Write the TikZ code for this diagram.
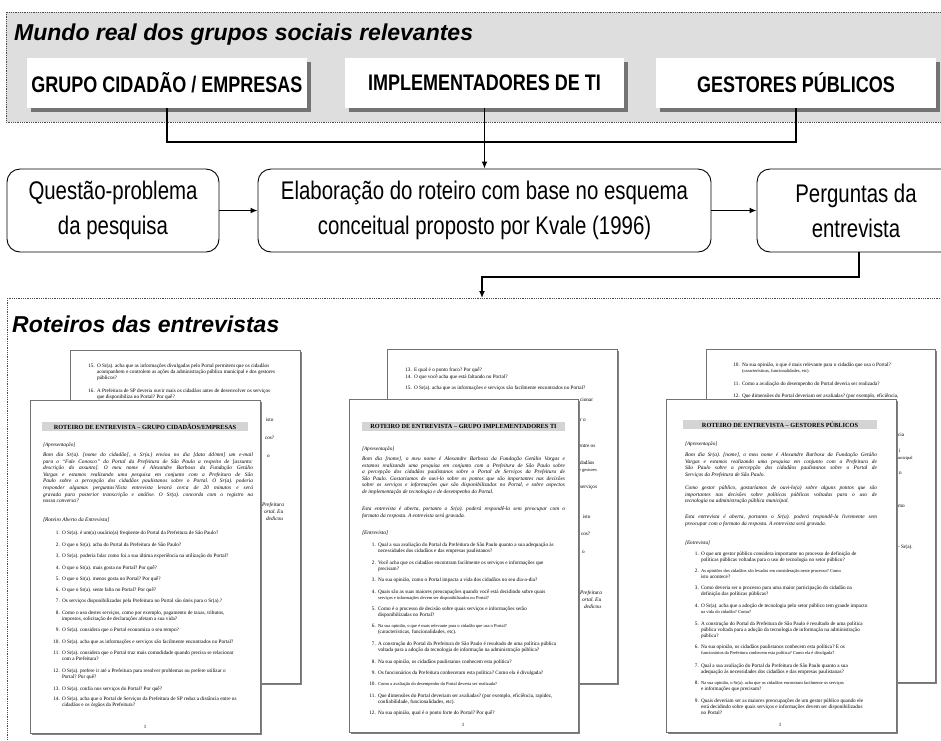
\documentclass[tikz,border=0pt]{standalone}
\usepackage{fontspec}
\setmainfont{Liberation Sans}
\newfontfamily\narrowsf{Liberation Sans}[FakeStretch=0.8]
\newfontfamily\docrm{Liberation Serif}
\usetikzlibrary{arrows.meta}

% fonts used inside the page thumbnails
\newcommand\fpar{\docrm\itshape\fontsize{5.4}{6.6}\selectfont\frenchspacing\tolerance=9999\emergencystretch=20pt }
\newcommand\fhead{\docrm\itshape\fontsize{5.2}{6.2}\selectfont}
\newcommand\fitem{\docrm\fontsize{5.2}{6.2}\selectfont\frenchspacing\raggedright}
\newcommand\fsmall{\docrm\fontsize{4.5}{6}\selectfont}

% text block: name, x, baseline y, width, content
\newcommand\pbody[5]{\node[txt] (#1) at (#2,#3) {\parbox[t]{#4pt}{#5}};}
% numbered question: name, x of text, baseline y, width, number, text
\newcommand\qitem[6]{%
  \node[txt, anchor=base east] (#1n) at (#2-2.2,#3) {\fitem #5};
  \node[txt] (#1) at (#2,#3) {\parbox[t]{#4pt}{\fitem #6}};}
% words of a covered page that show beside the page in front: name, x, baseline y, text
\newcommand\frag[4]{\node[txt] (#1) at (#2,#3) {#4};}

\begin{document}
\begin{tikzpicture}[x=1pt,y=-1pt,
  conn/.style={line width=1.8pt, draw=black},
  tip/.style={-{Latex[length=7pt,width=6pt]}},
  frame/.style={densely dotted, line width=0.8pt, draw=black!70},
  grp/.style={fill=white, inner sep=0pt, minimum height=50pt,
    font=\narrowsf\bfseries\fontsize{22.5}{26}\selectfont,
    preaction={fill=black!55, transform canvas={xshift=4pt,yshift=-4pt}}},
  stepbox/.style={draw=black, line width=0.9pt, rounded corners=13pt, fill=white,
    minimum height=83pt, align=center, inner sep=0pt,
    font=\narrowsf\fontsize{25.5}{35}\selectfont},
  ftitle/.style={anchor=base west, inner sep=0pt, font=\bfseries\itshape\fontsize{23}{27}\selectfont},
  docpage/.style={draw=black!55, line width=0.6pt, fill=white, inner sep=0pt,
    preaction={fill=black!50, transform canvas={xshift=1.8pt,yshift=-1.8pt}}},
  band/.style={fill=black!17, inner sep=0pt, minimum height=9pt,
    font=\docrm\bfseries\fontsize{6.3}{7}\selectfont},
  txt/.style={anchor=base west, inner sep=0pt, outer sep=0pt},
  pnum/.style={anchor=base, inner sep=0pt, font=\docrm\fontsize{5}{6}\selectfont}
]
\useasboundingbox (0,0) rectangle (941,740);
\clip (0,0) rectangle (941,740);

% ---------- real world of the social groups ----------
\draw[frame, fill=black!13] (6,12) rectangle (960,122);
\node[ftitle] (worldtitle) at (14,40) {Mundo real dos grupos sociais relevantes};
\node[grp, minimum width=280pt] (g1) at (167,83) {GRUPO CIDADÃO / EMPRESAS};
\node[grp, minimum width=279pt] (g2) at (484.5,83) {IMPLEMENTADORES DE TI};
\node[grp, minimum width=280pt] (g3) at (796,83) {GESTORES PÚBLICOS};

% ---------- process row ----------
\node[stepbox, minimum width=212pt] (qp) at (113,210.5) {Questão-problema\\da pesquisa};
\node[stepbox, minimum width=453pt] (elab) at (484.5,210.5) {Elaboração do roteiro com base no esquema\\conceitual proposto por Kvale (1996)};
\node[stepbox, minimum width=198pt] (perg) at (856,210.5) {Perguntas da\\entrevista};

\coordinate (join) at (484.5,142);
\draw[conn] (g1.south) |- (join) -| (g3.south);
\draw[conn, tip] (g2.south) -- (elab.north);
\draw[conn, tip] (qp.east) -- (elab.west);
\draw[conn, tip] (elab.east) -- (perg.west);

\coordinate (turn) at (859,277);
\coordinate (lowtop) at (482,298);
\draw[conn, tip] (perg.south -| turn) -- (turn) -- (turn -| lowtop) -- (lowtop);

% ---------- interview scripts ----------
\draw[frame] (7,298) rectangle (960,770);
\node[ftitle] (scripttitle) at (12,332) {Roteiros das entrevistas};

% ===== script 1: citizens / companies =====
\node[docpage, minimum width=230pt, minimum height=333pt] (p1back) at (185,516.5) {};
\qitem{p1b15}{97}{367.5}{186}{15.}{O Sr(a). acha que as informações divulgadas pelo Portal permitem que os cidadãos\\acompanhem e controlem as ações da administração pública municipal e dos gestores\\públicos?}
\qitem{p1b16}{97}{392.5}{186}{16.}{A Prefeitura de SP deveria ouvir mais os cidadãos antes de desenvolver os serviços\\que disponibiliza no Portal? Por quê?}
\frag{p1f1}{266}{421.5}{\fitem isto}
\frag{p1f2}{265}{439.5}{\fitem cos?}
\frag{p1f3}{267}{457.5}{\fitem o}
\frag{p1f4}{262}{506.5}{\fpar Prefeitura}
\frag{p1f5}{264}{513.5}{\fpar ortal. Eu}
\frag{p1f6}{266}{520.5}{\fpar dedicou}

\node[docpage, minimum width=230pt, minimum height=333pt] (p1front) at (145,566.5) {};
\node[band, minimum width=206pt] (p1band) at (145,426.5) {ROTEIRO DE ENTREVISTA – GRUPO CIDADÃOS/EMPRESAS};
\pbody{p1apr}{43}{446.5}{100}{\fhead [Apresentação]}
\pbody{p1par}{43}{456.5}{210}{\fpar Bom dia Sr(a). [nome do cidadão], o Sr(a.) enviou no dia [data dd/mm] um e-mail\linebreak
para o “Fale Conosco” do Portal da Prefeitura de São Paulo a respeito de [assunto:\linebreak
descrição do assunto]. O meu nome é Alexandre Barbosa da Fundação Getúlio\linebreak
Vargas e estamos realizando uma pesquisa em conjunto com a Prefeitura de São\linebreak
Paulo sobre a percepção dos cidadãos paulistanos sobre o Portal. O Sr(a). poderia\linebreak
responder algumas perguntas?Esta entrevista levará cerca de 20 minutos e será\linebreak
gravada para posterior transcrição e análise. O Sr(a). concorda com o registro na\linebreak
nossa conversa?}
\pbody{p1rot}{43}{521.5}{150}{\fpar [Roteiro Aberto da Entrevista]}
\qitem{p1q1}{62}{534}{195}{1.}{O Sr(a). é um(a) usuário(a) freqüente do Portal da Prefeitura de São Paulo?}
\qitem{p1q2}{62}{546.5}{195}{2.}{O que o Sr(a). acha do Portal da Prefeitura de São Paulo?}
\qitem{p1q3}{62}{557.5}{195}{3.}{O Sr(a). poderia falar como foi a sua última experiência na utilização do Portal?}
\qitem{p1q4}{62}{569.5}{195}{4.}{O que o Sr(a). mais gosta no Portal? Por quê?}
\qitem{p1q5}{62}{580.5}{195}{5.}{O que o Sr(a). menos gosta no Portal? Por quê?}
\qitem{p1q6}{62}{591.5}{195}{6.}{O que o Sr(a). sente falta no Portal? Por quê?}
\qitem{p1q7}{62}{602.5}{195}{7.}{Os serviços disponibilizados pela Prefeitura no Portal são úteis para o Sr(a).?}
\qitem{p1q8}{62}{614.5}{195}{8.}{Como o uso destes serviços, como por exemplo, pagamento de taxas, tributos,\\impostos, solicitação de declarações afetam a sua vida?}
\qitem{p1q9}{62}{631.5}{195}{9.}{O Sr(a). considera que o Portal economiza o seu tempo?}
\qitem{p1q10}{62}{643.5}{195}{10.}{O Sr(a). acha que as informações e serviços são facilmente encontrados no Portal?}
\qitem{p1q11}{62}{654.5}{195}{11.}{O Sr(a). considera que o Portal traz mais comodidade quando precisa se relacionar\\com a Prefeitura?}
\qitem{p1q12}{62}{672.5}{195}{12.}{O Sr(a). prefere ir até a Prefeitura para resolver problemas ou prefere utilizar o\\Portal? Por quê?}
\qitem{p1q13}{62}{690.5}{195}{13.}{O Sr(a). confia nos serviços do Portal? Por quê?}
\qitem{p1q14}{62}{700.5}{195}{14.}{O Sr(a). acha que o Portal de Serviços da Prefeitura de SP reduz a distância entre os\\cidadãos e os órgãos da Prefeitura?}
\node[pnum] (p1no) at (145,728.5) {1};

% ===== script 2: IT implementers =====
\node[docpage, minimum width=230pt, minimum height=334pt] (p2back) at (502,516) {};
\qitem{p2b13}{414}{371.5}{186}{13.}{E qual é o ponto fraco? Por quê?}
\qitem{p2b14}{414}{378.5}{186}{14.}{O que você acha que está faltando no Portal?}
\qitem{p2b15}{414}{389.5}{186}{15.}{O Sr(a). acha que as informações e serviços são facilmente encontrados no Portal?}
\frag{p2f1}{580}{401.5}{\fitem cionar}
\frag{p2f2}{580}{421.5}{\fitem r o}
\frag{p2f3}{579}{447.5}{\fitem entre os}
\frag{p2f4}{580}{464.5}{\fitem dadãos}
\frag{p2f5}{579}{471}{\fsmall e gestores}
\frag{p2f6}{580}{488}{\fitem serviços}
\frag{p2f7}{583}{518.5}{\fitem isto}
\frag{p2f8}{581}{535.5}{\fitem cos?}
\frag{p2f9}{582}{553.5}{\fitem o}
\frag{p2f10}{580}{594.5}{\fpar Prefeitura}
\frag{p2f11}{582}{601.5}{\fpar ortal. Eu}
\frag{p2f12}{584}{608.5}{\fpar dedicou}

\node[docpage, minimum width=229pt, minimum height=333pt] (p2front) at (463.5,565.5) {};
\node[band, minimum width=203pt] (p2band) at (463.5,426.5) {ROTEIRO DE ENTREVISTA – GRUPO IMPLEMENTADORES TI};
\pbody{p2apr}{362}{450.5}{100}{\fhead [Apresentação]}
\pbody{p2par}{362}{460.5}{203}{\fpar Bom dia [nome], o meu nome é Alexandre Barbosa da Fundação Getúlio Vargas e\linebreak
estamos realizando uma pesquisa em conjunto com a Prefeitura de São Paulo sobre\linebreak
a percepção dos cidadãos paulistanos sobre o Portal de Serviços da Prefeitura de\linebreak
São Paulo. Gostaríamos de ouvi-lo sobre os pontos que são importantes nas decisões\linebreak
sobre os serviços e informações que são disponibilizados no Portal, e sobre aspectos\linebreak
de implementação de tecnologia e de desempenho do Portal.}
\pbody{p2ab}{362}{510.5}{203}{\fpar Esta entrevista é aberta, portanto o Sr(a). poderá respondê-la sem preocupar com o\linebreak
formato da resposta. A entrevista será gravada.}
\pbody{p2ent}{362}{534.5}{100}{\fpar [Entrevista]}
\qitem{p2q1}{378}{546.5}{199}{1.}{Qual a sua avaliação do Portal da Prefeitura de São Paulo quanto a sua adequação às\\necessidades dos cidadãos e das empresas paulistanos?}
\qitem{p2q2}{378}{564.5}{199}{2.}{Você acha que os cidadãos encontram facilmente os serviços e informações que\\precisam?}
\qitem{p2q3}{378}{581.5}{199}{3.}{Na sua opinião, como o Portal impacta a vida dos cidadãos no seu dia-a-dia?}
\qitem{p2q4}{378}{593.5}{199}{4.}{Quais são as suas maiores preocupações quando você está decidindo sobre quais\\{\fsmall serviços e informações devem ser disponibilizados no Portal?}}
\qitem{p2q5}{378}{610.5}{199}{5.}{Como é o processo de decisão sobre quais serviços e informações serão\\disponibilizadas no Portal?}
\qitem{p2q6}{378}{627.5}{199}{6.}{{\fsmall Na sua opinião, o que é mais relevante para o cidadão que usa o Portal?}\\(características, funcionalidades, etc).}
\qitem{p2q7}{378}{645.5}{199}{7.}{A construção do Portal da Prefeitura de São Paulo é resultado de uma política pública\\voltada para a adoção da tecnologia de informação na administração pública?}
\qitem{p2q8}{378}{663.5}{199}{8.}{Na sua opinião, os cidadãos paulistanos conhecem esta política?}
\qitem{p2q9}{378}{674.5}{199}{9.}{Os funcionários da Prefeitura conheceram esta política? Como ela é divulgada?}
\qitem{p2q10}{378}{685.5}{199}{10.}{{\fsmall Como a avaliação do desempenho do Portal deveria ser realizada?}}
\qitem{p2q11}{378}{697.5}{199}{11.}{Que dimensões do Portal deveriam ser avaliadas? (por exemplo, eficiência, rapidez,\\confiabilidade, funcionalidades, etc).}
\qitem{p2q12}{378}{714.5}{199}{12.}{Na sua opinião, qual é o ponto forte do Portal? Por quê?}
\node[pnum] (p2no) at (463,726.5) {1};

% ===== script 3: public managers =====
\node[docpage, minimum width=229pt, minimum height=333pt] (p3back) at (820.5,515.5) {};
\qitem{p3b10}{742}{366.5}{186}{10.}{Na sua opinião, o que é mais relevante para o cidadão que usa o Portal?\\{\fsmall (características, funcionalidades, etc).}}
\qitem{p3b11}{742}{385.5}{186}{11.}{Como a avaliação do desempenho do Portal deveria ser realizada?}
\qitem{p3b12}{742}{397.5}{186}{12.}{Que dimensões do Portal deveriam ser avaliadas? (por exemplo, eficiência,\\rapidez, confiabilidade, funcionalidades, etc).}
\frag{p3f1}{898}{436.5}{\fitem cia}
\frag{p3f2}{899}{452}{\fitem i}
\frag{p3f3}{898}{459}{\fsmall unicipal}
\frag{p3f4}{899}{474.5}{\fitem n}
\frag{p3f5}{898}{507.5}{\fitem mo}
\frag{p3f6}{898}{548.5}{\fitem - Sr(a).}

\node[docpage, minimum width=230pt, minimum height=333pt] (p3front) at (781,565.5) {};
\node[band, minimum width=194pt] (p3band) at (780,424.5) {ROTEIRO DE ENTREVISTA – GESTORES PÚBLICOS};
\pbody{p3apr}{685}{445.5}{100}{\fhead [Apresentação]}
\pbody{p3par}{685}{456.5}{192}{\fpar Bom dia Sr(a). [nome], o meu nome é Alexandre Barbosa da Fundação Getúlio\linebreak
Vargas e estamos realizando uma pesquisa em conjunto com a Prefeitura de\linebreak
São Paulo sobre a percepção dos cidadãos paulistanos sobre o Portal de\linebreak
Serviços da Prefeitura de São Paulo.}
\pbody{p3ges}{685}{489.5}{192}{\fpar Como gestor público, gostaríamos de ouvi-lo(a) sobre alguns pontos que são\linebreak
importantes nas decisões sobre políticas públicas voltadas para o uso de\linebreak
tecnologia na administração pública municipal.}
\pbody{p3ab}{685}{518.5}{192}{\fpar Esta entrevista é aberta, portanto o Sr(a). poderá respondê-la livremente sem\linebreak
preocupar com o formato da resposta. A entrevista será gravada.}
\pbody{p3ent}{685}{544.5}{100}{\fhead [Entrevista]}
\qitem{p3q1}{701}{555.5}{189}{1.}{O que um gestor público considera importante no processo de definição de\\políticas públicas voltadas para o uso de tecnologia no setor público?}
\qitem{p3q2}{701}{572.5}{189}{2.}{{\fsmall As opiniões dos cidadãos são levadas em consideração neste processo? Como}\\isto acontece?}
\qitem{p3q3}{701}{589.5}{189}{3.}{Como deveria ser o processo para uma maior participação do cidadão na\\definição das políticas públicas?}
\qitem{p3q4}{701}{607.5}{189}{4.}{O Sr(a). acha que a adoção de tecnologia pelo setor público tem grande impacto\\{\fsmall na vida do cidadão? Como?}}
\qitem{p3q5}{701}{625.5}{189}{5.}{A construção do Portal da Prefeitura de São Paulo é resultado de uma política\\pública voltada para a adoção da tecnologia de informação na administração\\pública?}
\qitem{p3q6}{701}{648.5}{189}{6.}{Na sua opinião, os cidadãos paulistanos conhecem esta política? E os\\{\fsmall funcionários da Prefeitura conhecem esta política? Como ela é divulgada?}}
\qitem{p3q7}{701}{667.5}{189}{7.}{Qual a sua avaliação do Portal da Prefeitura de São Paulo quanto a sua\\adequação às necessidades dos cidadãos e das empresas paulistanas?}
\qitem{p3q8}{701}{684.5}{189}{8.}{{\fsmall Na sua opinião, o Sr(a). acha que os cidadãos encontram facilmente os serviços}\\e informações que precisam?}
\qitem{p3q9}{701}{702.5}{189}{9.}{Quais deveriam ser as maiores preocupações de um gestor público quando ele\\está decidindo sobre quais serviços e informações devem ser disponibilizados\\no Portal?}
\node[pnum] (p3no) at (780,726.5) {1};
\end{tikzpicture}
\end{document}
